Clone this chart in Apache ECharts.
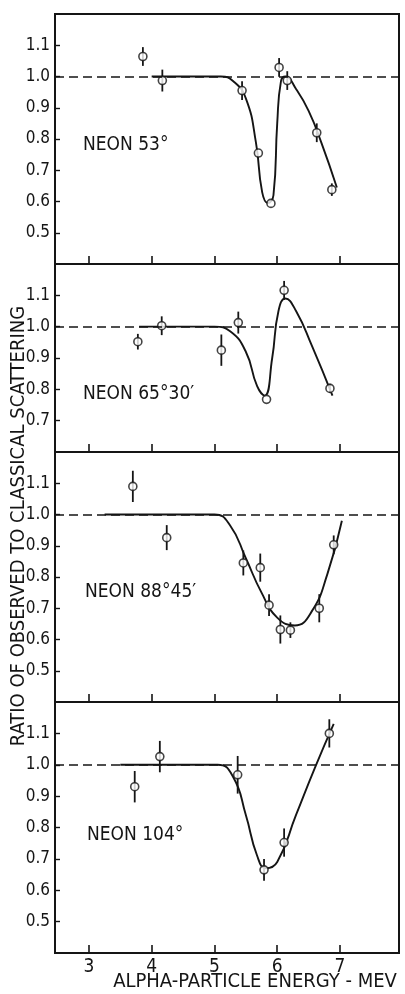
<!DOCTYPE html>
<html>
<head>
<meta charset="utf-8">
<script src="https://cdn.jsdelivr.net/npm/echarts@6/dist/echarts.min.js"></script>
<style>
  html, body { margin: 0; padding: 0; background: #fff; }
  #chart { width: 405px; height: 994px; }
</style>
</head>
<body>
<div id="chart"></div>
<script>
// panel titles
const panelNames = ['NEON 53°', 'NEON 65°30′', 'NEON 88°45′', 'NEON 104°']
const energyTicks = [3, 4, 5, 6, 7]
const ratioTicksFull = [0.5, 0.6, 0.7, 0.8, 0.9, 1.0, 1.1]
const ratioTicksShort = [0.7, 0.8, 0.9, 1.0, 1.1]

// measured points (energy MeV, ratio, half error bar)
const energy53 = [3.86, 4.17, 5.44, 5.70, 5.90, 6.03, 6.16, 6.63, 6.87]
const ratio53 = [1.064, 0.987, 0.955, 0.755, 0.594, 1.029, 0.987, 0.82, 0.638]
const err53 = [0.03, 0.035, 0.03, 0.0, 0.0, 0.03, 0.03, 0.03, 0.02]

const energy65 = [3.78, 4.16, 5.11, 5.38, 5.83, 6.11, 6.84]
const ratio65 = [0.952, 1.003, 0.925, 1.013, 0.768, 1.116, 0.803]
const err65 = [0.025, 0.03, 0.05, 0.035, 0.0, 0.03, 0.015]

const energy88 = [3.70, 4.24, 5.46, 5.73, 5.87, 6.05, 6.21, 6.67, 6.90]
const ratio88 = [1.09, 0.926, 0.845, 0.83, 0.71, 0.632, 0.63, 0.70, 0.903]
const err88 = [0.05, 0.04, 0.04, 0.045, 0.035, 0.045, 0.025, 0.045, 0.03]

const energy104 = [3.73, 4.13, 5.37, 5.79, 6.11, 6.83]
const ratio104 = [0.93, 1.026, 0.968, 0.665, 0.752, 1.10]
const err104 = [0.05, 0.05, 0.06, 0.035, 0.045, 0.045]

// hand-drawn fitted curves
const curveX53 = [4.0, 5.1, 5.3, 5.5, 5.66, 5.76, 5.85, 5.94, 6.0, 6.06, 6.13, 6.3, 6.5, 6.7, 6.95]
const curveY53 = [1.0, 1.0, 0.985, 0.93, 0.79, 0.63, 0.595, 0.62, 0.85, 0.985, 1.0, 0.96, 0.89, 0.79, 0.645]

const curveX65 = [3.8, 5.0, 5.25, 5.5, 5.68, 5.8, 5.92, 6.02, 6.13, 6.3, 6.55, 6.88]
const curveY65 = [1.0, 1.0, 0.985, 0.92, 0.81, 0.78, 0.9, 1.05, 1.09, 1.05, 0.94, 0.78]

const curveX88 = [3.25, 5.0, 5.25, 5.5, 5.75, 6.0, 6.28, 6.55, 6.8, 7.03]
const curveY88 = [1.0, 1.0, 0.965, 0.86, 0.75, 0.67, 0.645, 0.69, 0.81, 0.98]

const curveX104 = [3.5, 5.05, 5.3, 5.5, 5.68, 5.82, 6.0, 6.3, 6.6, 6.9]
const curveY104 = [1.0, 1.0, 0.96, 0.84, 0.71, 0.67, 0.69, 0.84, 0.99, 1.13]

const panels = [
  { name: panelNames[0], ex: energy53, ry: ratio53, er: err53, cx: curveX53, cy: curveY53, min: 0.4, ticks: ratioTicksFull },
  { name: panelNames[1], ex: energy65, ry: ratio65, er: err65, cx: curveX65, cy: curveY65, min: 0.6, ticks: ratioTicksShort },
  { name: panelNames[2], ex: energy88, ry: ratio88, er: err88, cx: curveX88, cy: curveY88, min: 0.4, ticks: ratioTicksFull },
  { name: panelNames[3], ex: energy104, ry: ratio104, er: err104, cx: curveX104, cy: curveY104, min: 0.4, ticks: ratioTicksFull }
]

const font = '"DejaVu Sans Condensed", "Liberation Sans Narrow", sans-serif'
const ink = '#151515'
const gridTops = [14, 264, 452, 702]
const gridHeights = [250, 188, 250, 251]
const labelPos = [[83, 148], [83, 397], [85, 595], [87, 838]]

let grid = [], xAxis = [], yAxis = [], series = [], graphic = []

panels.forEach((p, i) => {
  grid.push({
    left: 55, right: 6, top: gridTops[i], height: gridHeights[i],
    show: true, borderColor: ink, borderWidth: 2, backgroundColor: 'transparent'
  })
  xAxis.push({
    type: 'value', gridIndex: i, min: 2.46, max: 7.94,
    axisLine: { show: false },
    splitLine: { show: false },
    axisTick: { show: true, inside: true, length: 8, customValues: energyTicks, lineStyle: { color: ink, width: 1.6 } },
    axisLabel: {
      show: i === 3, customValues: energyTicks, margin: 5,
      color: ink, fontFamily: font, fontSize: 19
    }
  })
  yAxis.push({
    type: 'value', gridIndex: i, min: p.min, max: 1.2,
    axisLine: { show: false },
    splitLine: { show: false },
    axisTick: { show: true, inside: true, length: 5, customValues: p.ticks, lineStyle: { color: ink, width: 1.4 } },
    axisLabel: {
      customValues: p.ticks, margin: 5,
      color: ink, fontFamily: font, fontSize: 17,
      formatter: v => v.toFixed(1)
    }
  })
  // fitted curve plus the dashed classical line
  series.push({
    type: 'line', xAxisIndex: i, yAxisIndex: i,
    data: p.cx.map((x, k) => [x, p.cy[k]]),
    smooth: 0.5, showSymbol: false, silent: true,
    lineStyle: { color: ink, width: 1.9 },
    markLine: {
      silent: true, symbol: ['none', 'none'], label: { show: false },
      lineStyle: { color: ink, width: 1.7, type: [9, 5] },
      data: [{ yAxis: 1.0 }]
    },
    z: 2
  })
  // error bars
  series.push({
    type: 'custom', xAxisIndex: i, yAxisIndex: i,
    data: p.ex.map((x, k) => [x, p.ry[k] - p.er[k], p.ry[k] + p.er[k]]),
    renderItem(params, api) {
      const lo = api.coord([api.value(0), api.value(1)])
      const hi = api.coord([api.value(0), api.value(2)])
      return {
        type: 'line',
        shape: { x1: lo[0], y1: lo[1], x2: hi[0], y2: hi[1] },
        style: { stroke: ink, lineWidth: 1.8 }
      }
    },
    z: 3
  })
  // open circles
  series.push({
    type: 'scatter', xAxisIndex: i, yAxisIndex: i,
    data: p.ex.map((x, k) => [x, p.ry[k]]),
    symbol: 'circle', symbolSize: 8,
    itemStyle: { color: '#fff', borderColor: ink, borderWidth: 1.6 },
    z: 4
  })
  graphic.push({
    type: 'text', left: labelPos[i][0], top: labelPos[i][1] - 12,
    style: { text: p.name, fill: ink, font: '19px ' + font }
  })
})

graphic.push({
  type: 'text', x: 19, y: 526, rotation: Math.PI / 2,
  style: {
    text: 'RATIO OF OBSERVED TO CLASSICAL SCATTERING',
    fill: ink, font: '20px ' + font, align: 'center', verticalAlign: 'middle'
  }
})
graphic.push({
  type: 'text', x: 255, y: 982,
  style: {
    text: 'ALPHA-PARTICLE ENERGY - MEV',
    fill: ink, font: '20px ' + font, align: 'center', verticalAlign: 'middle'
  }
})

const chart = echarts.init(document.getElementById('chart'), null, { renderer: 'canvas' })
chart.setOption({
  animation: false,
  backgroundColor: '#fff',
  grid, xAxis, yAxis, series, graphic
})
</script>
</body>
</html>
